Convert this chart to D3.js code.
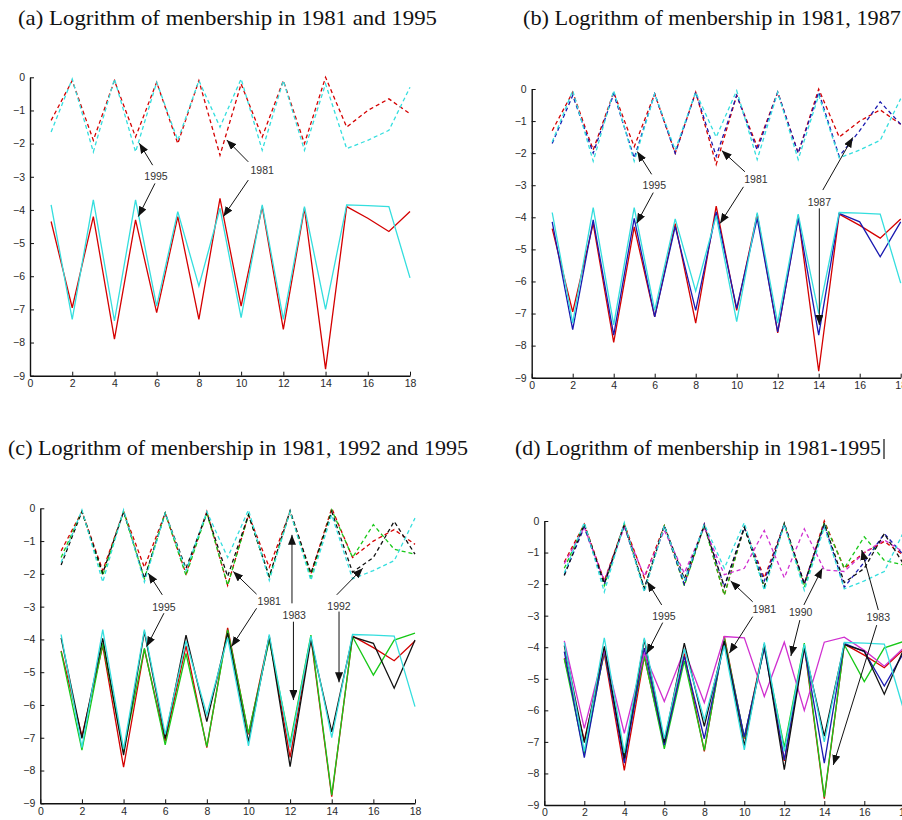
<!DOCTYPE html>
<html>
<head>
<meta charset="utf-8">
<script src="https://cdn.jsdelivr.net/npm/d3@7/dist/d3.min.js"></script>
<style>
  body { margin: 0; background: #fff; }
  .tick text { font-family: "Liberation Sans", Arial, sans-serif; font-size: 10.5px; fill: #2a2a2a; }
</style>
</head>
<body>
<div id="chart"></div>
<script>
// x positions of the 18 membership levels
const xs = [1, 2, 3, 4, 5, 6, 7, 8, 9, 10, 11, 12, 13, 14, 15, 16, 17, 18]
const xTicks = [0, 2, 4, 6, 8, 10, 12, 14, 16, 18]
const yTicks = [0, -1, -2, -3, -4, -5, -6, -7, -8, -9]

// upper (dashed) curves
const up1981 = [-1.3, -0.1, -1.9, -0.1, -1.8, -0.15, -2.0, -0.1, -2.35, -0.2, -1.8, -0.1, -2.0, 0.0, -1.5, -1.0, -0.65, -1.1]
const up1983 = [-1.5, -0.1, -2.05, -0.1, -2.15, -0.15, -2.05, -0.15, -2.35, -0.2, -2.1, -0.1, -2.1, -0.05, -1.5, -0.5, -1.25, -1.4]
const up1987 = [-1.7, -0.2, -2.0, -0.15, -2.15, -0.15, -2.0, -0.1, -2.1, -0.2, -1.9, -0.1, -2.0, -0.1, -2.1, -1.3, -0.4, -1.1]
const up1990 = [-1.35, -0.2, -1.9, -0.2, -1.75, -0.3, -1.65, -0.2, -1.7, -1.5, -0.3, -1.8, -0.25, -1.55, -1.6, -1.0, -0.6, -1.0]
const up1992 = [-1.73, -0.1, -1.98, -0.1, -2.14, -0.15, -1.83, -0.15, -2.08, -0.2, -2.08, -0.07, -1.98, -0.1, -1.95, -1.5, -0.4, -1.4]
const up1995 = [-1.65, -0.05, -2.25, -0.05, -2.25, -0.15, -1.9, -0.1, -1.5, -0.05, -2.2, -0.1, -2.2, -0.2, -2.15, -1.9, -1.6, -0.3]

// lower (solid) curves
const low1981 = [-4.35, -6.95, -4.2, -7.9, -4.3, -7.1, -4.2, -7.3, -3.65, -6.9, -3.9, -7.6, -3.95, -8.8, -3.9, -4.25, -4.65, -4.05]
const low1983 = [-4.37, -7.38, -4.12, -7.43, -4.27, -7.22, -4.43, -7.27, -3.71, -6.87, -4.02, -7.17, -3.87, -8.75, -3.92, -5.09, -4.02, -3.81]
const low1987 = [-4.14, -7.5, -4.08, -7.67, -4.03, -7.1, -4.29, -6.9, -3.83, -6.84, -4.03, -7.57, -4.03, -7.67, -3.88, -4.14, -5.23, -4.14]
const low1990 = [-3.8, -6.57, -4.09, -6.73, -4.19, -5.72, -4.09, -5.76, -3.66, -3.7, -5.56, -3.84, -6.0, -3.84, -3.68, -4.1, -4.6, -4.0]
const low1992 = [-3.95, -7.02, -3.97, -7.53, -3.76, -7.02, -3.87, -6.51, -3.81, -7.12, -3.92, -7.88, -4.02, -6.82, -3.92, -4.12, -5.49, -4.02]
const low1995 = [-3.85, -7.3, -3.7, -7.35, -3.7, -6.9, -4.05, -6.3, -3.95, -7.25, -3.85, -7.3, -3.9, -7.0, -3.85, -3.87, -3.9, -6.05]

const titles = [
  '(a) Logrithm of menbership in 1981 and 1995',
  '(b) Logrithm of menbership in 1981, 1987',
  '(c) Logrithm of menbership in 1981, 1992 and 1995',
  '(d) Logrithm of menbership in 1981-1995'
]

const colors = {
  1981: '#d40000',
  1983: '#18c818',
  1987: '#1a1ab0',
  1990: '#d030d0',
  1992: '#111111',
  1995: '#34dede'
}

const upper = { 1981: up1981, 1983: up1983, 1987: up1987, 1990: up1990, 1992: up1992, 1995: up1995 }
const lower = { 1981: low1981, 1983: low1983, 1987: low1987, 1990: low1990, 1992: low1992, 1995: low1995 }

// annotations: label position and arrow (from -> to) in data units
const notesA = [
  { t: '1995', x: 5.97, y: -2.98, arrows: [[5.81, -2.65, 5.18, -1.99], [5.92, -3.2, 5.13, -4.2]] },
  { t: '1981', x: 11.0, y: -2.82, arrows: [[10.34, -2.55, 9.32, -1.89], [10.34, -3.1, 9.16, -4.2]] }
]
const notesB = [
  { t: '1995', x: 5.98, y: -3.0, arrows: [[5.85, -2.66, 5.15, -1.95], [5.93, -3.23, 5.12, -4.19]] },
  { t: '1981', x: 10.94, y: -2.82, arrows: [[10.4, -2.58, 9.27, -1.92], [10.33, -3.05, 9.19, -4.19]] },
  { t: '1987', x: 14.03, y: -3.53, arrows: [[14.2, -3.15, 15.66, -1.51], [14.03, -3.72, 14.03, -7.36]] }
]
const notesC = [
  { t: '1995', x: 5.94, y: -3.01, arrows: [[5.86, -2.64, 5.19, -1.98], [5.94, -3.2, 5.11, -4.22]] },
  { t: '1981', x: 11.0, y: -2.85, arrows: [[10.39, -2.62, 9.27, -1.93], [10.39, -3.05, 9.19, -4.22]] },
  { t: '1983', x: 12.2, y: -3.26, arrows: [[12.09, -2.9, 12.09, -0.81], [12.16, -3.46, 12.16, -5.85]] },
  { t: '1992', x: 14.35, y: -2.98, arrows: [[14.24, -2.64, 15.49, -1.83], [14.35, -3.15, 14.35, -5.31]] }
]
const notesD = [
  { t: '1995', x: 5.98, y: -3.01, arrows: [[5.87, -2.66, 5.15, -1.92], [5.92, -3.22, 5.12, -4.21]] },
  { t: '1981', x: 11.0, y: -2.8, arrows: [[10.42, -2.56, 9.32, -1.9], [10.42, -3.03, 9.25, -4.19]] },
  { t: '1990', x: 12.82, y: -2.9, arrows: [[12.98, -2.66, 13.9, -1.5], [12.78, -3.14, 12.33, -4.28]] },
  { t: '1983', x: 16.7, y: -3.05, arrows: [[16.7, -2.82, 15.87, -0.92], [16.62, -3.3, 14.45, -7.73]] }
]

// layout of the four panels (pixel frame of each plot)
const panels = [
  { title: titles[0], tx: 18, ty: 25, tw: 419, left: 30, right: 410, top: 77.3, bottom: 375.7, years: [1981, 1995], notes: notesA },
  { title: titles[1], tx: 523, ty: 25, tw: 378, left: 531.7, right: 900.7, top: 89, bottom: 377.7, years: [1981, 1987, 1995], notes: notesB },
  { title: titles[2], tx: 8, ty: 455, tw: 460, left: 40.3, right: 415, top: 508.3, bottom: 803.3, years: [1981, 1983, 1992, 1995], notes: notesC },
  { title: titles[3], tx: 515, ty: 455, tw: 366, left: 544.3, right: 904.3, top: 521, bottom: 805, years: [1981, 1983, 1987, 1990, 1992, 1995], notes: notesD, cursor: true }
]

const W = 902
const H = 820

const svg = d3.select('#chart').append('svg')
  .attr('width', W)
  .attr('height', H)
  .style('background', '#fff')

svg.append('defs').append('marker')
  .attr('id', 'head')
  .attr('markerUnits', 'userSpaceOnUse')
  .attr('viewBox', '0 0 10 8')
  .attr('refX', 10)
  .attr('refY', 4)
  .attr('markerWidth', 10)
  .attr('markerHeight', 8)
  .attr('orient', 'auto')
  .append('path')
  .attr('d', 'M0,0L10,4L0,8Z')
  .attr('fill', '#111')

panels.forEach(p => {
  let x = d3.scaleLinear().domain([0, 18]).range([p.left, p.right])
  let y = d3.scaleLinear().domain([-9, 0]).range([p.bottom, p.top])

  svg.append('text')
    .attr('x', p.tx)
    .attr('y', p.ty)
    .attr('font-family', '"Liberation Serif", "Times New Roman", serif')
    .attr('font-size', 21)
    .attr('textLength', p.tw)
    .attr('lengthAdjust', 'spacingAndGlyphs')
    .attr('fill', '#111')
    .text(p.title)

  if (p.cursor) {
    svg.append('line')
      .attr('x1', p.tx + p.tw + 3).attr('x2', p.tx + p.tw + 3)
      .attr('y1', p.ty - 16).attr('y2', p.ty + 4)
      .attr('stroke', '#111').attr('stroke-width', 1.2)
  }

  let g = svg.append('g')

  g.append('g')
    .attr('transform', 'translate(' + p.left + ',0)')
    .call(d3.axisLeft(y).tickValues(yTicks).tickSize(-4).tickSizeOuter(0).tickPadding(5).tickFormat(d3.format('d')))
    .call(a => a.select('.domain').attr('stroke', '#111').attr('stroke-width', 1.4))
    .call(a => a.selectAll('.tick line').attr('stroke', '#111'))

  g.append('g')
    .attr('transform', 'translate(0,' + p.bottom + ')')
    .call(d3.axisBottom(x).tickValues(xTicks).tickSize(-4).tickSizeOuter(0).tickPadding(4))
    .call(a => a.select('.domain').attr('stroke', '#111').attr('stroke-width', 1.4))
    .call(a => a.selectAll('.tick line').attr('stroke', '#111'))

  let line = d3.line()
    .x((d, i) => x(xs[i]))
    .y(d => y(d))

  p.years.forEach(yr => {
    g.append('path')
      .datum(upper[yr])
      .attr('d', line)
      .attr('fill', 'none')
      .attr('stroke', colors[yr])
      .attr('stroke-width', 1.3)
      .attr('stroke-dasharray', '4,3')
  })
  p.years.forEach(yr => {
    g.append('path')
      .datum(lower[yr])
      .attr('d', line)
      .attr('fill', 'none')
      .attr('stroke', colors[yr])
      .attr('stroke-width', 1.3)
  })

  p.notes.forEach(n => {
    n.arrows.forEach(a => {
      g.append('line')
        .attr('x1', x(a[0])).attr('y1', y(a[1]))
        .attr('x2', x(a[2])).attr('y2', y(a[3]))
        .attr('stroke', '#111')
        .attr('stroke-width', 1)
        .attr('marker-end', 'url(#head)')
    })
    g.append('text')
      .attr('x', x(n.x))
      .attr('y', y(n.y))
      .attr('dy', '0.35em')
      .attr('text-anchor', 'middle')
      .attr('font-family', '"Liberation Sans", Arial, sans-serif')
      .attr('font-size', 10.5)
      .attr('fill', '#333')
      .text(n.t)
  })
})
</script>
</body>
</html>
